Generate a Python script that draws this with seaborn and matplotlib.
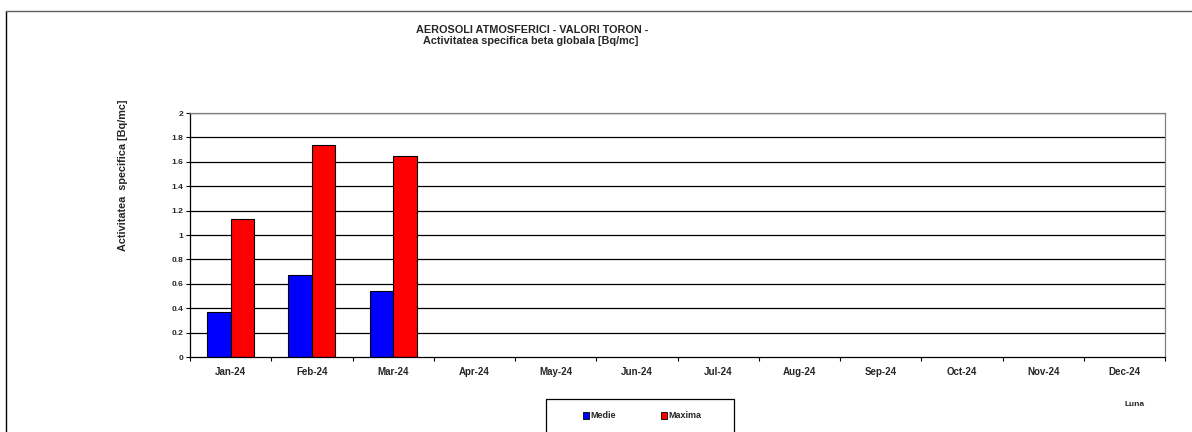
import matplotlib
matplotlib.use("Agg")
import matplotlib.pyplot as plt
import seaborn as sns
import pandas as pd
import numpy as np
from matplotlib.lines import Line2D
from matplotlib.patches import Patch

months = ["Jan-24", "Feb-24", "Mar-24", "Apr-24", "May-24", "Jun-24",
          "Jul-24", "Aug-24", "Sep-24", "Oct-24", "Nov-24", "Dec-24"]
medie = [0.37, 0.67, 0.54, np.nan, np.nan, np.nan, np.nan, np.nan, np.nan, np.nan, np.nan, np.nan]
maxima = [1.13, 1.74, 1.65, np.nan, np.nan, np.nan, np.nan, np.nan, np.nan, np.nan, np.nan, np.nan]
series_names = ["Medie", "Maxima"]
colors = ["#0000FF", "#FF0000"]
yticks = [0, 0.2, 0.4, 0.6, 0.8, 1, 1.2, 1.4, 1.6, 1.8, 2]
ytick_labels = ["0", "0.2", "0.4", "0.6", "0.8", "1", "1.2", "1.4", "1.6", "1.8", "2"]

df = pd.DataFrame({
    "Luna": months * 2,
    "Valoare": medie + maxima,
    "Serie": [series_names[0]] * 12 + [series_names[1]] * 12,
})

sns.set_theme(style="white")
plt.rcParams["font.family"] = ["Liberation Sans", "DejaVu Sans"]

W, H = 1192, 432
fig = plt.figure(figsize=(W / 100, H / 100), dpi=100)
ax = fig.add_axes([190 / W, 1 - 357 / H, (1165 - 190) / W, (357 - 113) / H])

sns.barplot(data=df, x="Luna", y="Valoare", hue="Serie", order=months,
            hue_order=series_names, palette=colors, width=0.58,
            edgecolor="black", linewidth=0.8, ax=ax, legend=False,
            saturation=1)

ax.set_ylim(0, 2)
ax.set_xlim(-0.5, 11.5)
ax.set_yticks(yticks)
ax.set_yticklabels(ytick_labels, fontsize=6, fontweight="bold")
ax.set_xticks(range(12))
ax.set_xticklabels(months, fontsize=7, fontweight="bold")
ax.tick_params(axis="x", length=0, pad=7)
ax.tick_params(axis="y", length=3, direction="out", width=0.8, color="black", pad=2, left=True)
ax.set_xticks(np.arange(-0.5, 12, 1), minor=True)
ax.tick_params(axis="x", which="minor", length=3, direction="out", width=0.8, color="black", bottom=True)

for y in yticks[1:]:
    ax.axhline(y, color="black", linewidth=0.9, zorder=0)
ax.set_axisbelow(True)

for s in ["left", "bottom"]:
    ax.spines[s].set_color("black")
    ax.spines[s].set_linewidth(0.9)
for s in ["top", "right"]:
    ax.spines[s].set_color("#808080")
    ax.spines[s].set_linewidth(0.9)
ax.set_xlabel("")
ax.set_ylabel("")

fig.text(532 / W, 1 - 30 / H, "AEROSOLI ATMOSFERICI - VALORI TORON -", ha="center", va="center",
         fontsize=7.8, fontweight="bold")
fig.text(531 / W, 1 - 41 / H, "Activitatea specifica beta globala [Bq/mc]", ha="center", va="center",
         fontsize=7.8, fontweight="bold")
fig.text(123 / W, 1 - 175 / H, "Activitatea  specifica [Bq/mc]", rotation=90, ha="center", va="center",
         fontsize=7.8, fontweight="bold")
fig.text(1135 / W, 1 - 404 / H, "Luna", ha="center", va="center", fontsize=6, fontweight="bold")

# outer frame
fig.add_artist(Line2D([6 / W, 6 / W], [0, 1 - 11 / H], transform=fig.transFigure, color="black", linewidth=1))
fig.add_artist(Line2D([6 / W, 1], [1 - 11 / H, 1 - 11 / H], transform=fig.transFigure, color="#606060", linewidth=1))

handles = [Patch(facecolor=c, edgecolor="black", linewidth=0.6) for c in colors]
leg = fig.legend(handles, series_names, loc="center", bbox_to_anchor=(642 / W, 1 - 416 / H),
                 ncol=2, frameon=False, handlelength=0.7, handleheight=0.7,
                 handletextpad=0.1, columnspacing=5, prop={"weight": "bold", "size": 6.5})
fig.add_artist(Line2D([546 / W, 546 / W, 734 / W, 734 / W], [0, 1 - 399 / H, 1 - 399 / H, 0],
                      transform=fig.transFigure, color="black", linewidth=0.9))

fig.savefig("out.png", dpi=100, facecolor="white")
